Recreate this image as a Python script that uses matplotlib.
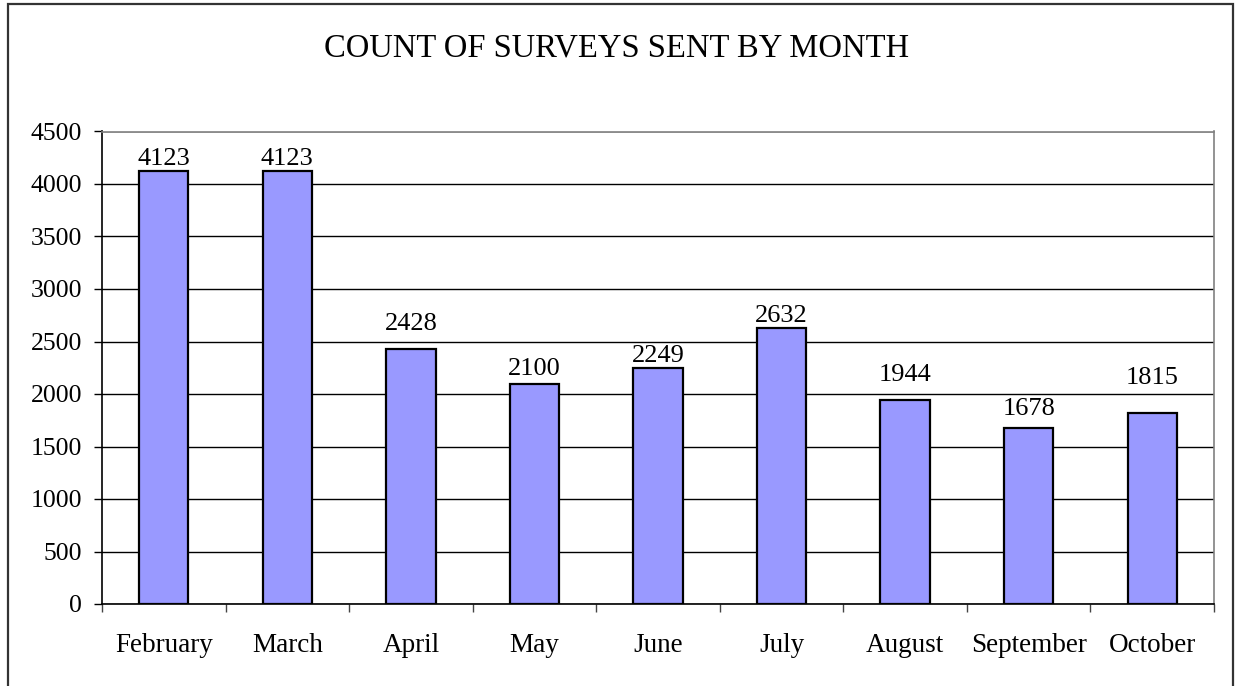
import numpy as np
import matplotlib
matplotlib.use("Agg")
import matplotlib.pyplot as plt
from matplotlib.patches import Rectangle

plt.rcParams['font.family'] = ['Liberation Serif', 'DejaVu Serif']

months = ["February", "March", "April", "May", "June", "July",
          "August", "September", "October"]
surveys = [4123, 4123, 2428, 2100, 2249, 2632, 1944, 1678, 1815]
yticks = [0, 500, 1000, 1500, 2000, 2500, 3000, 3500, 4000, 4500]

# gap (px) between bar top and label baseline, as Excel placed them
label_gap_px = [6, 6, 19, 8, 6, 6, 19, 13, 29]

W, H = 1235, 686
fig = plt.figure(figsize=(W / 100, H / 100), dpi=100)

# chart area border (bottom edge runs off the picture)
fig.patches.append(Rectangle((8 / W, -0.05), (1233 - 8) / W, 1.05 - 4 / H,
                             transform=fig.transFigure, fill=False,
                             edgecolor="#333333", linewidth=1.6,
                             clip_on=False))

ax = fig.add_axes([102 / W, 1 - 604 / H, (1214 - 102) / W, (604 - 131.5) / H])

x = np.arange(len(months))
bars = ax.bar(x, surveys, width=0.4, color="#9999ff", edgecolor="black",
              linewidth=1.6, zorder=3)

for xi, v, gap in zip(x, surveys, label_gap_px):
    ax.annotate(str(v), (xi, v), xytext=(0, gap * 0.72), textcoords="offset points",
                ha="center", va="baseline", fontsize=19, zorder=4)

ax.set_xlim(-0.5, len(months) - 0.5)
ax.set_ylim(0, 4500)
ax.set_yticks(yticks)
ax.set_yticklabels([str(t) for t in yticks])
ax.yaxis.grid(True, color="black", linewidth=1.0, zorder=0)
ax.tick_params(axis="y", direction="out", length=5.8, width=1, pad=8.5,
               labelsize=18.5)

ax.set_xticks(x)
ax.set_xticklabels(months)
ax.set_xticks(np.arange(len(months) + 1) - 0.5, minor=True)
ax.tick_params(axis="x", which="major", length=0, pad=21, labelsize=19.5)
ax.tick_params(axis="x", which="minor", direction="out", length=6, width=1,
               color="#444444")

for side in ["left", "bottom"]:
    ax.spines[side].set_color("black")
    ax.spines[side].set_linewidth(1.2)
for side in ["top", "right"]:
    ax.spines[side].set_color("#808080")
    ax.spines[side].set_linewidth(1.2)

fig.text(617 / W, 1 - 48 / H, "COUNT OF SURVEYS SENT BY MONTH",
         ha="center", va="center", fontsize=23.5)

fig.savefig("out.png", dpi=100)
